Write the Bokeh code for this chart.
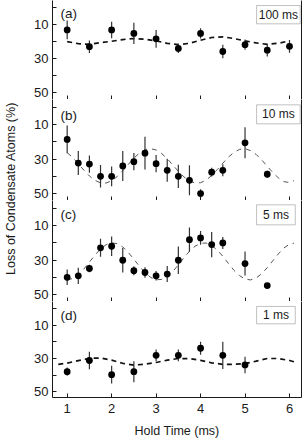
from bokeh.plotting import figure
from bokeh.layouts import row, column
from bokeh.models import (Range1d, FixedTicker, LinearAxis, Label, BoxAnnotation,
                          CustomLabelingPolicy)
from bokeh.embed import file_html
from bokeh.resources import INLINE

# ---------------- data ----------------
x_a = [1.0, 1.5, 2.0, 2.5, 3.0, 3.5, 4.0, 4.5, 5.0, 5.5, 6.0]
y_a = [13.2, 23.0, 13.2, 15.2, 18.4, 24.0, 15.2, 25.8, 21.8, 25.0, 22.8]
e_a = [5.5, 3.7, 4.8, 6.2, 5.2, 2.7, 3.0, 4.0, 3.0, 3.7, 3.7]
cx_a = [1.0, 1.25, 1.5, 1.75, 2.0, 2.25, 2.5, 2.75, 3.0, 3.25, 3.5, 3.75,
        4.0, 4.25, 4.5, 4.75, 5.0, 5.25, 5.5, 5.75, 6.0]
cy_a = [20.0, 21.2, 21.6, 20.6, 19.8, 18.8, 18.2, 18.6, 19.6, 21.0, 21.8, 21.0,
        19.2, 17.6, 17.2, 18.2, 19.6, 20.8, 21.6, 21.0, 19.6]

x_b = [1.0, 1.25, 1.5, 1.75, 2.0, 2.25, 2.5, 2.75, 3.0, 3.25, 3.5, 3.75,
       4.0, 4.25, 4.5, 5.0, 5.5]
y_b = [18.6, 32.3, 32.9, 40.0, 40.0, 34.0, 31.5, 26.6, 32.7, 36.5, 40.0, 42.3,
       50.0, 37.6, 36.5, 20.6, 38.8]
e_b = [8.0, 7.0, 5.0, 6.5, 5.7, 8.7, 5.0, 9.5, 5.0, 6.7, 6.7, 8.7,
       2.5, 2.5, 3.5, 9.0, 2.0]
cx_b = [1.0, 1.125, 1.25, 1.375, 1.5, 1.625, 1.75, 1.875, 2.0, 2.125, 2.25, 2.375,
        2.5, 2.625, 2.75, 2.875, 3.0, 3.125, 3.25, 3.375, 3.5, 3.625, 3.75, 3.875,
        4.0, 4.125, 4.25, 4.375, 4.5, 4.625, 4.75, 4.875, 5.0, 5.125, 5.25, 5.375,
        5.5, 5.625, 5.75, 5.875, 6.0, 6.1]
cy_b = [26.3, 29.1, 32.7, 36.4, 39.8, 42.3, 43.8, 43.9, 42.6, 40.1, 36.8, 33.1,
        29.5, 26.5, 24.6, 24.0, 24.7, 26.8, 29.8, 33.4, 37.1, 40.3, 42.7, 43.9,
        43.7, 42.2, 39.5, 36.1, 32.4, 28.9, 26.1, 24.4, 24.0, 25.1, 27.3, 30.5,
        34.2, 37.8, 40.9, 43.1, 43.6, 42.5]

x_c = [1.0, 1.25, 1.5, 1.75, 2.0, 2.25, 2.5, 2.75, 3.0, 3.25, 3.5, 3.75,
       4.0, 4.25, 4.5, 5.0, 5.5]
y_c = [40.0, 39.1, 34.9, 22.9, 22.0, 30.1, 36.2, 37.2, 39.1, 38.1, 30.1, 18.2,
       17.2, 21.0, 20.1, 32.0, 44.8]
e_c = [4.5, 4.7, 2.2, 5.2, 5.7, 7.1, 2.6, 3.0, 2.7, 4.6, 8.0, 7.0,
       4.0, 7.3, 3.5, 7.0, 0.0]
cx_c = [1.0, 1.125, 1.25, 1.375, 1.5, 1.625, 1.75, 1.875, 2.0, 2.125, 2.25, 2.375,
        2.5, 2.625, 2.75, 2.875, 3.0, 3.125, 3.25, 3.375, 3.5, 3.625, 3.75, 3.875,
        4.0, 4.125, 4.25, 4.375, 4.5, 4.625, 4.75, 4.875, 5.0, 5.125, 5.25, 5.375,
        5.5, 5.625, 5.75, 5.875, 6.0, 6.1]
cy_c = [41.5, 40.7, 38.5, 35.2, 31.2, 27.1, 23.6, 21.1, 20.0, 20.5, 22.4, 25.6,
        29.5, 33.6, 37.2, 40.0, 41.4, 41.2, 39.6, 36.6, 32.8, 28.7, 24.9, 22.0,
        20.3, 20.1, 21.5, 24.2, 27.8, 31.9, 35.9, 39.0, 41.0, 41.5, 40.4, 37.9,
        34.4, 30.4, 26.4, 23.0, 20.8, 20.2]

x_d = [1.0, 1.5, 2.0, 2.5, 3.0, 3.5, 4.0, 4.5, 5.0]
y_d = [38.0, 31.2, 39.8, 38.0, 28.1, 28.1, 23.8, 28.1, 33.9]
e_d = [2.5, 5.3, 5.4, 6.4, 3.6, 3.5, 4.0, 8.2, 5.0]
cx_d = [0.8, 1.0, 1.25, 1.5, 1.75, 2.0, 2.25, 2.5, 2.75, 3.0, 3.25, 3.5, 3.75,
        4.0, 4.25, 4.5, 4.75, 5.0, 5.25, 5.5, 5.75, 6.0, 6.1]
cy_d = [33.5, 32.8, 31.3, 29.9, 29.7, 31.0, 32.9, 34.0, 33.4, 32.4, 31.0, 30.0, 30.1,
        31.1, 32.6, 33.5, 33.5, 33.1, 31.6, 30.0, 30.0, 31.2, 32.0]

panel_tags = ["(a)", "(b)", "(c)", "(d)"]
box_texts = ["100 ms", "10 ms", "5 ms", "1 ms"]
x_ticks = [1, 2, 3, 4, 5, 6]
y_ticks = [10, 30, 50]
y_minor = [0, 20, 40]
x_title = "Hold Time (ms)"
y_title = "Loss of Condensate Atoms (%)"

FONT = "Liberation Sans"
INK = "#1a1a1a"

NO_LABELS = CustomLabelingPolicy(code="""
for (const i of Array.from(indices)) { indices.unset(i) }
return indices
""")


def make_panel(h, yr, show_x, xs, ys, es, cx, cy, heavy, tag, tag_y, box, btxt):
    p = figure(width=279, height=h, x_range=Range1d(0.67, 6.27),
               y_range=Range1d(yr[0], yr[1]), output_backend="svg",
               toolbar_location=None, min_border_left=28, min_border_right=2,
               min_border_top=0, min_border_bottom=(43 if show_x else 0),
               outline_line_color=None, background_fill_color="white",
               border_fill_color="white")
    p.grid.visible = False

    xa = p.xaxis[0]
    xa.ticker = FixedTicker(ticks=x_ticks, minor_ticks=[])
    xa.major_tick_in = 4
    xa.major_tick_out = 0
    xa.minor_tick_in = 0
    xa.minor_tick_out = 0
    xa.axis_line_color = INK
    xa.major_tick_line_color = INK
    if show_x:
        xa.major_label_text_font = FONT
        xa.major_label_text_font_size = "13px"
        xa.major_label_text_color = INK
        xa.major_label_standoff = 6
        xa.axis_label = x_title
        xa.axis_label_text_font = FONT
        xa.axis_label_text_font_size = "12.5px"
        xa.axis_label_text_font_style = "normal"
        xa.axis_label_text_color = INK
        xa.axis_label_standoff = 8
    else:
        xa.major_label_text_font_size = "0px"
        xa.major_label_standoff = 0
        xa.major_label_policy = NO_LABELS

    ya = p.yaxis[0]
    ya.ticker = FixedTicker(ticks=y_ticks, minor_ticks=y_minor)
    ya.major_tick_in = 4
    ya.major_tick_out = 0
    ya.minor_tick_in = 4
    ya.minor_tick_out = 0
    ya.axis_line_color = INK
    ya.major_tick_line_color = INK
    ya.minor_tick_line_color = INK
    ya.major_label_text_font = FONT
    ya.major_label_text_font_size = "13px"
    ya.major_label_text_color = INK
    ya.major_label_standoff = 4

    ra = LinearAxis(ticker=FixedTicker(ticks=[], minor_ticks=[]),
                    major_tick_in=0, major_tick_out=0, minor_tick_in=0,
                    minor_tick_out=0, major_label_standoff=0, axis_line_color=INK)
    p.add_layout(ra, "right")

    # fitted curve
    if heavy:
        p.line(cx, cy, line_color="#111111", line_width=1.7, line_dash="5 4")
    else:
        p.line(cx, cy, line_color="#555555", line_width=1.0, line_dash="5 5")

    # error bars and points
    lo = [y - e for y, e in zip(ys, es)]
    hi = [y + e for y, e in zip(ys, es)]
    p.segment(x0=xs, y0=lo, x1=xs, y1=hi, line_color="#333333", line_width=1.2)
    p.scatter(xs, ys, size=6.8, fill_color="black", line_color=None)

    p.add_layout(Label(x=0.85, y=tag_y, text=tag, text_align="left",
                       text_baseline="middle", text_font=FONT,
                       text_font_size="13.5px", text_color=INK))
    p.add_layout(BoxAnnotation(left=box[0], right=box[1], top=box[2], bottom=box[3],
                               fill_color="white", fill_alpha=1.0,
                               line_color="#333333", line_width=1))
    p.add_layout(Label(x=(box[0] + box[1]) / 2, y=(box[2] + box[3]) / 2, text=btxt,
                       text_align="center", text_baseline="middle", text_font=FONT,
                       text_font_size="12px", text_color=INK))
    return p


pa = make_panel(99, (53.9, -4.05), False, x_a, y_a, e_a, cx_a, cy_a, True,
                panel_tags[0], 3.3, (5.26, 6.24, -1.1, 9.6), box_texts[0])
pb = make_panel(101, (54.0, -4.5), False, x_b, y_b, e_b, cx_b, cy_b, False,
                panel_tags[1], 4.8, (5.26, 6.24, -1.4, 9.6), box_texts[1])
pc = make_panel(101, (54.0, -4.5), False, x_c, y_c, e_c, cx_c, cy_c, False,
                panel_tags[2], 3.6, (5.26, 6.13, -2.0, 9.6), box_texts[2])
pd = make_panel(139, (53.6, -4.5), True, x_d, y_d, e_d, cx_d, cy_d, True,
                panel_tags[3], 4.0, (5.26, 6.13, -1.5, 9.0), box_texts[3])

TOTAL_H = 99 + 101 + 101 + 139
lf = figure(width=24, height=TOTAL_H, x_range=Range1d(0, 24), y_range=Range1d(0, TOTAL_H),
            output_backend="svg", toolbar_location=None, min_border=0,
            x_axis_location=None, y_axis_location=None, outline_line_color=None)
lf.grid.visible = False
lf.add_layout(Label(x=10.5, y=TOTAL_H - 188, text=y_title, angle=90, angle_units="deg",
                    text_align="center", text_baseline="middle", text_font=FONT,
                    text_font_size="12.5px", text_color=INK))

layout = row(lf, column(pa, pb, pc, pd))
open("out.html", "w").write(file_html(layout, INLINE))
